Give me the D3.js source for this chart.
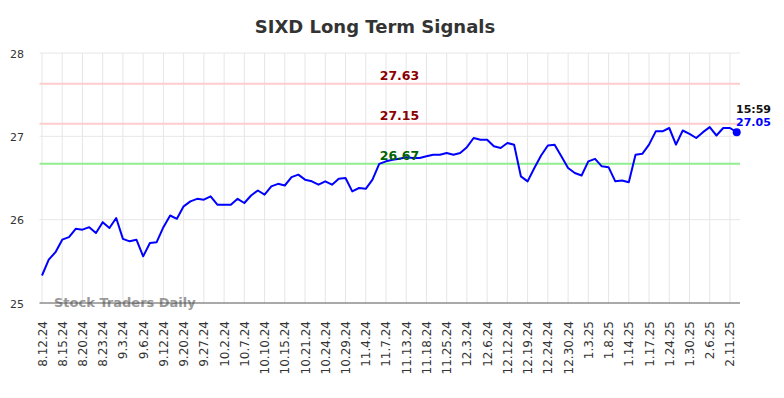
<!DOCTYPE html>
<html>
<head>
<meta charset="utf-8">
<script src="https://cdn.jsdelivr.net/npm/d3@7"></script>
<style>
  body { margin: 0; background: #fff; }
  svg { display: block; font-family: "DejaVu Sans", sans-serif; }
</style>
</head>
<body>
<svg class="chart" width="784" height="398"></svg>
<script>
const title = 'SIXD Long Term Signals'

const tickLabels = ['8.12.24','8.15.24','8.20.24','8.23.24','9.3.24','9.6.24','9.12.24','9.20.24',
  '9.27.24','10.2.24','10.7.24','10.10.24','10.15.24','10.21.24','10.24.24','10.29.24','11.4.24',
  '11.7.24','11.13.24','11.18.24','11.25.24','12.3.24','12.6.24','12.12.24','12.19.24','12.24.24',
  '12.30.24','1.3.25','1.8.25','1.14.25','1.17.25','1.24.25','1.30.25','2.6.25','2.11.25']

// one close per trading day, ticks every 3rd day
const prices = [
  25.33, 25.52, 25.61, 25.76, 25.79, 25.89, 25.88, 25.91, 25.84, 25.97,
  25.90, 26.02, 25.77, 25.74, 25.76, 25.56, 25.72, 25.73, 25.91, 26.05,
  26.01, 26.16, 26.22, 26.25, 26.24, 26.28, 26.18, 26.18, 26.18, 26.25,
  26.20, 26.29, 26.35, 26.30, 26.40, 26.43, 26.41, 26.51, 26.54, 26.48,
  26.46, 26.42, 26.46, 26.42, 26.49, 26.50, 26.34, 26.38, 26.37, 26.48,
  26.67, 26.70, 26.72, 26.73, 26.75, 26.74, 26.74, 26.76, 26.78, 26.78,
  26.80, 26.78, 26.80, 26.87, 26.98, 26.96, 26.96, 26.88, 26.86, 26.92,
  26.90, 26.52, 26.46, 26.62, 26.77, 26.89, 26.90, 26.76, 26.62, 26.56,
  26.53, 26.70, 26.73, 26.64, 26.63, 26.46, 26.47, 26.45, 26.78, 26.79,
  26.90, 27.06, 27.06, 27.10, 26.90, 27.07, 27.03, 26.98, 27.05, 27.11,
  27.01, 27.10, 27.10, 27.05
]

const signalValues = [27.63, 27.15, 26.67]
const signalColors = ['#ffcccc', '#ffcccc', '#90ee90']
const signalTextColors = ['#8b0000', '#8b0000', '#006400']

const yTicks = [25, 26, 27, 28]
const lastTime = '15:59'

const svg = d3.select('.chart')

const x = d3.scaleLinear()
  .domain([0, prices.length - 1])
  .range([42, 736.7])

const y = d3.scaleLinear()
  .domain([25, 28])
  .range([303, 53])

const left = 39.5
const right = 740

// grid
svg.append('g')
  .selectAll('line')
  .data(tickLabels)
  .enter()
  .append('line')
  .attr('x1', (d, i) => x(i * 3))
  .attr('x2', (d, i) => x(i * 3))
  .attr('y1', y(28))
  .attr('y2', y(25))
  .attr('stroke', '#e6e6e6')
  .attr('stroke-width', 1)

svg.append('g')
  .selectAll('line')
  .data(yTicks.slice(1))
  .enter()
  .append('line')
  .attr('x1', left)
  .attr('x2', right)
  .attr('y1', d => y(d))
  .attr('y2', d => y(d))
  .attr('stroke', '#e6e6e6')
  .attr('stroke-width', 1)

// y labels
svg.append('g')
  .selectAll('text')
  .data(yTicks)
  .enter()
  .append('text')
  .attr('x', 24)
  .attr('y', d => y(d) + 4.5)
  .attr('text-anchor', 'end')
  .attr('font-size', 11)
  .attr('fill', '#333')
  .text(d => d)

// x labels
svg.append('g')
  .selectAll('text')
  .data(tickLabels)
  .enter()
  .append('text')
  .attr('transform', (d, i) => `translate(${x(i * 3) + 4.5},321) rotate(-90)`)
  .attr('text-anchor', 'end')
  .attr('font-size', 12)
  .attr('fill', '#333')
  .text(d => d)

// signal lines
svg.append('g')
  .selectAll('line')
  .data(signalValues)
  .enter()
  .append('line')
  .attr('x1', left)
  .attr('x2', right)
  .attr('y1', d => y(d))
  .attr('y2', d => y(d))
  .attr('stroke', (d, i) => signalColors[i])
  .attr('stroke-width', 2)

// watermark
svg.append('text')
  .attr('x', 54)
  .attr('y', 307)
  .attr('font-size', 13)
  .attr('font-weight', 'bold')
  .attr('fill', '#999')
  .text('Stock Traders Daily')

// axis line
svg.append('line')
  .attr('x1', left)
  .attr('x2', right)
  .attr('y1', y(25))
  .attr('y2', y(25))
  .attr('stroke', '#555')
  .attr('stroke-width', 1)

// price line
const line = d3.line()
  .x((d, i) => x(i))
  .y(d => y(d))

svg.append('path')
  .datum(prices)
  .attr('fill', 'none')
  .attr('stroke', '#0000ff')
  .attr('stroke-width', 2)
  .attr('stroke-linejoin', 'round')
  .attr('d', line)

// signal labels
svg.append('g')
  .selectAll('text')
  .data(signalValues)
  .enter()
  .append('text')
  .attr('x', 399.5)
  .attr('y', d => y(d) - 4)
  .attr('text-anchor', 'middle')
  .attr('font-size', 12.5)
  .attr('font-weight', 'bold')
  .attr('fill', (d, i) => signalTextColors[i])
  .text(d => d.toFixed(2))

// last point
const lastIdx = prices.length - 1
svg.append('circle')
  .attr('cx', x(lastIdx))
  .attr('cy', y(prices[lastIdx]))
  .attr('r', 4)
  .attr('fill', '#0000ff')

svg.append('text')
  .attr('x', 736)
  .attr('y', 113)
  .attr('font-size', 11)
  .attr('font-weight', 'bold')
  .attr('fill', '#111')
  .text(lastTime)

svg.append('text')
  .attr('x', 736)
  .attr('y', 126)
  .attr('font-size', 11)
  .attr('font-weight', 'bold')
  .attr('fill', '#0000ff')
  .text(prices[lastIdx].toFixed(2))

// title
svg.append('text')
  .attr('x', 375)
  .attr('y', 33)
  .attr('text-anchor', 'middle')
  .attr('font-size', 18)
  .attr('font-weight', 'bold')
  .attr('fill', '#333')
  .text(title)
</script>
</body>
</html>
